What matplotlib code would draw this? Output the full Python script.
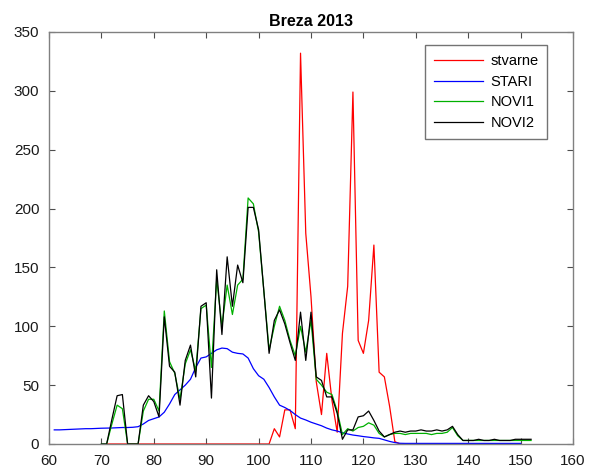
import matplotlib
matplotlib.use('Agg')
import matplotlib.pyplot as plt
import numpy as np

plt.rcParams['font.family'] = ['Liberation Sans', 'DejaVu Sans']

# day of year for each series
x_stvarne = np.arange(71, 151)
x_stari = np.arange(61, 151)
x_novi = np.arange(70, 153)

stvarne = [0] * 31 + [0, 13, 6, 29, 29, 13, 332, 179, 125, 53, 25, 77, 37, 10,
                      94, 134, 299, 88, 77, 105, 169, 61, 57, 32, 2] + [0] * 24

stari = [12, 12, 12.2, 12.4, 12.6, 12.8, 13, 13, 13.2, 13.4, 13.5, 13.6, 13.8, 14,
         14, 14.2, 14.7, 17, 20, 21.5, 23, 27, 34, 42, 46, 50, 55, 65, 73, 74, 77,
         80, 81.5, 81, 78, 77, 76.5, 73, 64, 58, 55, 48, 40, 33, 31, 28.5, 25, 22,
         20.4, 18.5, 17, 15.5, 13.5, 12, 11, 9.6, 8.5, 7.6, 7, 6.3, 5.8, 5.2, 4.8,
         3.5, 2.2, 1.2, 0.6] + [0.5] * 23

novi1 = [0, 0, 17, 33, 30, 0, 0, 0, 28, 38, 38, 28, 113, 70, 60, 38, 68, 80, 62,
         115, 118, 65, 140, 100, 135, 110, 135, 140, 209, 204, 180, 130, 80, 100,
         117, 105, 88, 75, 100, 78, 105, 55, 50, 44, 42, 28, 8, 13, 11, 14, 15, 18,
         16, 9, 6, 8, 9, 9, 8, 9, 9, 9, 9, 8, 9, 9, 10, 14, 7, 3, 3, 3, 3, 3, 3, 3,
         3, 3, 3, 3, 3, 3, 3]

novi2 = [0, 0, 21, 41, 42, 0, 0, 0, 33, 41, 36, 23, 108, 66, 61, 33, 71, 84, 57,
         117, 120, 39, 148, 93, 159, 117, 152, 137, 201, 201, 182, 130, 77, 105,
         114, 102, 86, 71, 112, 71, 112, 57, 54, 40, 40, 26, 4, 12, 12, 23, 24, 28,
         20, 11, 6, 8, 10, 11, 10, 11, 11, 12, 11, 11, 12, 11, 12, 15, 8, 3, 3, 3,
         4, 3, 3, 4, 3, 3, 3, 4, 4, 4, 4]

fig = plt.figure(figsize=(5.97, 4.74), dpi=100)
ax = fig.add_axes([0.0821, 0.0633, 0.8777, 0.8692])

ax.plot(x_stvarne, stvarne, color='#ff0000', lw=0.9, label='stvarne')
ax.plot(x_stari, stari, color='#0000ff', lw=0.9, label='STARI')
ax.plot(x_novi, novi1, color='#00b000', lw=0.9, label='NOVI1')
ax.plot(x_novi, novi2, color='#000000', lw=0.9, label='NOVI2')

ax.set_xlim(60, 160)
ax.set_ylim(0, 350)
ax.set_xticks(np.arange(60, 161, 10))
ax.set_yticks(np.arange(0, 351, 50))
ax.tick_params(direction='in', top=True, right=True, length=4, width=0.8,
               color='0.3', labelsize=11, labelcolor='0.1', pad=7)
for s in ax.spines.values():
    s.set_color('0.5')
    s.set_linewidth(1.0)

ax.set_title('Breza 2013', fontsize=11.5, fontweight='bold', pad=4)

leg = ax.legend(loc='upper right', bbox_to_anchor=(0.965, 0.985), fancybox=False,
                framealpha=1, edgecolor='0.45', fontsize=10.5, handlelength=3.4,
                borderpad=0.6, labelspacing=0.45, handletextpad=0.5)
leg.get_frame().set_linewidth(1.0)

fig.savefig('out.png', dpi=100)
